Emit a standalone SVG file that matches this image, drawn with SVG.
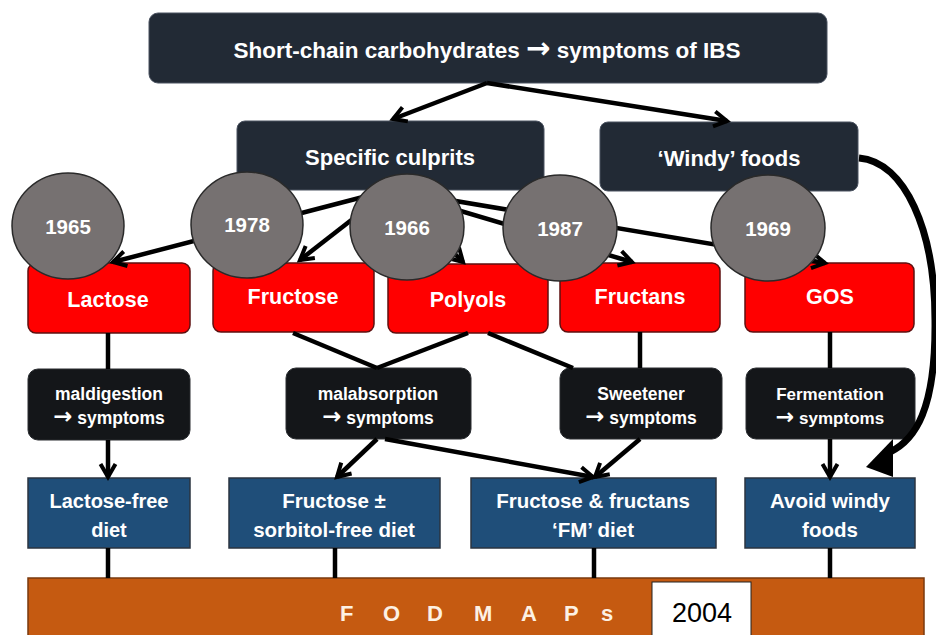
<svg xmlns="http://www.w3.org/2000/svg" width="936" height="635" viewBox="0 0 936 635">
<style>
.t{font-family:"Liberation Sans",Arial,sans-serif;font-weight:bold;fill:#fff;text-anchor:middle}
.ar{font-family:"DejaVu Sans",sans-serif;font-weight:bold;font-size:130%}
.navy{fill:#222a35;stroke:#4a5260;stroke-width:1}
.dark{fill:#141619;stroke:#2a2d31;stroke-width:1}
.red{fill:#ff0000;stroke:#5e1010;stroke-width:1.5}
.blue{fill:#1f4e79;stroke:#2b3440;stroke-width:1.5}
.year{fill:#767171;stroke:#2a2a2a;stroke-width:1.5}
.c{fill:none;stroke:#000;stroke-width:4.5}
</style>
<defs>
<marker id="ah" viewBox="0 0 18 18" markerWidth="18" markerHeight="18" refX="16" refY="9" markerUnits="userSpaceOnUse" orient="auto" overflow="visible">
<path d="M3,1.5 L16,9 L3,16.5" fill="none" stroke="#000" stroke-width="4"/>
</marker>
</defs>
<rect x="0" y="0" width="936" height="635" fill="#fff"/>

<g id="top"><rect class="navy" x="149" y="13" width="678" height="70" rx="9"/><text class="t" x="487" y="58" font-size="22.5">Short-chain carbohydrates <tspan class="ar">→</tspan> symptoms of IBS</text></g>
<g id="specific"><rect class="navy" x="237" y="121" width="307" height="69" rx="8"/><text class="t" x="390" y="165" font-size="22">Specific culprits</text></g>
<g id="windy"><rect class="navy" x="600" y="122" width="258" height="69" rx="8"/><text class="t" x="729" y="166" font-size="22">‘Windy’ foods</text></g>

<g id="lactose"><rect class="red" x="28" y="263" width="162" height="70" rx="8"/><text class="t" x="108" y="307" font-size="21.5">Lactose</text></g>
<g id="fructose"><rect class="red" x="213" y="263" width="161" height="69" rx="8"/><text class="t" x="293" y="304" font-size="21.5">Fructose</text></g>
<g id="polyols"><rect class="red" x="388" y="264" width="160" height="69" rx="8"/><text class="t" x="468" y="307" font-size="21.5">Polyols</text></g>
<g id="fructans"><rect class="red" x="560" y="263" width="160" height="69" rx="8"/><text class="t" x="640" y="304" font-size="21.5">Fructans</text></g>
<g id="gos"><rect class="red" x="745" y="263" width="169" height="69" rx="8"/><text class="t" x="830" y="304" font-size="21.5">GOS</text></g>

<g id="maldigestion"><rect class="dark" x="28" y="369" width="162" height="71" rx="10"/><text class="t" x="109" y="400" font-size="17.5">maldigestion</text><text class="t" x="109" y="424" font-size="17.5"><tspan class="ar">→</tspan> symptoms</text></g>
<g id="malabsorption"><rect class="dark" x="286" y="368" width="185" height="71" rx="10"/><text class="t" x="378" y="400" font-size="17.5">malabsorption</text><text class="t" x="378" y="424" font-size="17.5"><tspan class="ar">→</tspan> symptoms</text></g>
<g id="sweetener"><rect class="dark" x="560" y="368" width="162" height="71" rx="10"/><text class="t" x="641" y="400" font-size="17.5">Sweetener</text><text class="t" x="641" y="424" font-size="17.5"><tspan class="ar">→</tspan> symptoms</text></g>
<g id="fermentation"><rect class="dark" x="746" y="368" width="169" height="71" rx="10"/><text class="t" x="830" y="400" font-size="17">Fermentation</text><text class="t" x="830" y="424" font-size="17"><tspan class="ar">→</tspan> symptoms</text></g>

<g id="lactose-free"><rect class="blue" x="28" y="478" width="162" height="70"/><text class="t" x="109" y="508" font-size="20">Lactose-free</text><text class="t" x="109" y="537" font-size="20">diet</text></g>
<g id="sorbitol-free"><rect class="blue" x="229" y="478" width="211" height="70"/><text class="t" x="334" y="508" font-size="20.5">Fructose ±</text><text class="t" x="334" y="537" font-size="20.5">sorbitol-free diet</text></g>
<g id="fm-diet"><rect class="blue" x="471" y="478" width="245" height="70"/><text class="t" x="593" y="508" font-size="20.5">Fructose &amp; fructans</text><text class="t" x="593" y="537" font-size="20.5">‘FM’ diet</text></g>
<g id="avoid-windy"><rect class="blue" x="745" y="478" width="170" height="70"/><text class="t" x="830" y="508" font-size="20.5">Avoid windy</text><text class="t" x="830" y="537" font-size="20.5">foods</text></g>

<g id="fodmaps"><rect x="28" y="578" width="896" height="60" fill="#c55a11" stroke="#7a3a0e" stroke-width="1.5"/><text class="t" style="fill:#fdf1e4;text-anchor:start" y="621" font-size="22" x="340 383 427 474 521 564 601">FODMAPs</text></g>
<g id="year-2004"><rect x="652" y="582" width="99" height="56" fill="#fff" stroke="#222" stroke-width="1"/><text x="702" y="622" font-family="Liberation Sans, Arial, sans-serif" font-size="27" fill="#000" text-anchor="middle">2004</text></g>

<g id="connectors">
<path class="c" d="M487,83 L393,119" marker-end="url(#ah)"/>
<path class="c" d="M487,83 L727,121" marker-end="url(#ah)"/>
<path class="c" d="M390,190 L113,262" marker-end="url(#ah)"/>
<path class="c" d="M390,190 L300,260" marker-end="url(#ah)"/>
<path class="c" d="M390,190 L463,262" marker-end="url(#ah)"/>
<path class="c" d="M390,190 L632,262" marker-end="url(#ah)"/>
<path class="c" d="M390,190 L825,263" marker-end="url(#ah)"/>
<path class="c" d="M293,333 L377,368"/>
<path class="c" d="M468,333 L377,368"/>
<path class="c" d="M488,333 L573,368"/>
<path class="c" d="M108,333 L108,369"/>
<path class="c" d="M640,332 L640,368"/>
<path class="c" d="M830,332 L830,368"/>
<path class="c" d="M108,440 L108,477" marker-end="url(#ah)"/>
<path class="c" d="M377,439 L337,477" marker-end="url(#ah)"/>
<path class="c" d="M385,439 L593,477" marker-end="url(#ah)"/>
<path class="c" d="M640,439 L595,477" marker-end="url(#ah)"/>
<path class="c" d="M830,439 L830,477" marker-end="url(#ah)"/>
<path class="c" d="M108,548 L108,578"/>
<path class="c" d="M335,548 L335,578"/>
<path class="c" d="M594,548 L594,578"/>
<path class="c" d="M830,548 L830,578"/>
<path d="M859,158 C905,162 935,230 935,320 C936,410 915,440 890,452" fill="none" stroke="#000" stroke-width="7"/>
<polygon points="866,467 893,439 893,477" fill="#000"/>
</g>

<g id="y1965"><ellipse class="year" cx="68" cy="226" rx="56" ry="53"/><text class="t" x="68" y="234" font-size="20.5">1965</text></g>
<g id="y1978"><ellipse class="year" cx="247" cy="225" rx="56" ry="53"/><text class="t" x="247" y="232" font-size="20.5">1978</text></g>
<g id="y1966"><ellipse class="year" cx="407" cy="227" rx="57" ry="53"/><text class="t" x="407" y="235" font-size="20.5">1966</text></g>
<g id="y1987"><ellipse class="year" cx="560" cy="228" rx="57" ry="53"/><text class="t" x="560" y="236" font-size="20.5">1987</text></g>
<g id="y1969"><ellipse class="year" cx="768" cy="228" rx="57" ry="53"/><text class="t" x="768" y="236" font-size="20.5">1969</text></g>
</svg>
